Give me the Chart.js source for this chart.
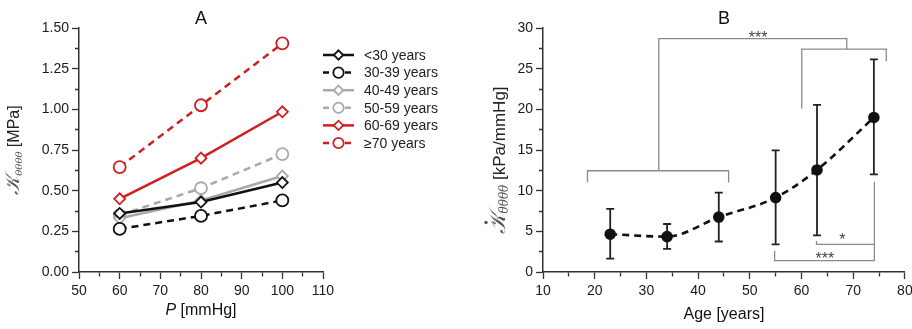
<!DOCTYPE html>
<html><head><meta charset="utf-8">
<script src="https://cdn.jsdelivr.net/npm/chart.js@4"></script>
<style>
html,body{margin:0;padding:0;background:#fff;overflow:hidden;width:912px;height:329px}
#wa{position:absolute;left:0;top:0;width:470px;height:329px}
#wb{position:absolute;left:470px;top:0;width:442px;height:329px}
</style></head><body>
<div id="wa"><canvas id="ca"></canvas></div>
<div id="wb"><canvas id="cb"></canvas></div>
<script>
// ---------- Panel A data ----------
const pressures = [60, 80, 100];
const groupLabels = ['<30 years', '30-39 years', '40-49 years', '50-59 years', '60-69 years', '\u226570 years'];
const kUnder30 = [0.36, 0.43, 0.55];
const k30to39 = [0.265, 0.345, 0.44];
const k40to49 = [0.33, 0.44, 0.59];
const k50to59 = [0.35, 0.515, 0.725];
const k60to69 = [0.45, 0.70, 0.985];
const k70plus = [0.645, 1.025, 1.405];
const xLabelsA = [50, 60, 70, 80, 90, 100, 110];
const yLabelsA = [0, 0.25, 0.5, 0.75, 1.0, 1.25, 1.5];

// ---------- Panel B data ----------
const ages = [23, 34, 44, 55, 63, 74];
const kDotMean = [4.65, 4.35, 6.75, 9.15, 12.55, 19.0];
const kDotLow = [1.65, 2.85, 3.75, 3.4, 4.5, 12.0];
const kDotHigh = [7.75, 5.9, 9.75, 14.95, 20.55, 26.15];
const xLabelsB = [10, 20, 30, 40, 50, 60, 70, 80];
const yLabelsB = [0, 5, 10, 15, 20, 25, 30];
// significance brackets (data coordinates: age, value)
const bracketPaths = [
  [[18.6, 11.0], [18.6, 12.45], [45.9, 12.45], [45.9, 11.0]],
  [[32.4, 12.45], [32.4, 28.7], [68.75, 28.7], [68.75, 27.4]],
  [[60.05, 20.1], [60.05, 27.4], [76.4, 27.4], [76.4, 25.9]],
  [[62.9, 3.8], [62.9, 3.4], [74.1, 3.4]],
  [[54.8, 2.6], [54.8, 1.4], [74.1, 1.4], [74.1, 11.1]]
];
const starMarks = [
  { x: 51.6, y: 29.2, text: '***' },
  { x: 67.9, y: 4.3, text: '*' },
  { x: 64.5, y: 2.0, text: '***' }
];

const FONT = '"Liberation Sans", Arial, sans-serif';
const RED = '#d01f1f', GREY = '#a9a9a9', BLACK = '#111111';

function drawYTitle(ctx, cx, cy, dot, unit, s) {
  ctx.save();
  ctx.translate(cx, cy);
  ctx.rotate(-Math.PI / 2);
  const fK = 'italic ' + s.k + 'px "DejaVu Serif", serif';
  const fSub = 'italic ' + s.sub + 'px "DejaVu Serif", serif';
  const fU = s.u + 'px ' + FONT;
  const K = '\uD835\uDCA6';
  ctx.font = fK; const wK = ctx.measureText(K).width;
  ctx.font = fSub; const wS = ctx.measureText('\u03B8\u03B8\u03B8\u03B8').width;
  ctx.font = fU; const wU = ctx.measureText(' ' + unit).width;
  const total = wK + wS + wU;
  let x = -total / 2;
  ctx.textBaseline = 'alphabetic';
  ctx.textAlign = 'left';
  ctx.fillStyle = '#555';
  ctx.font = fK; ctx.fillText(K, x, 6);
  if (dot) { ctx.beginPath(); ctx.arc(x + wK * 0.55, -13, 1.7, 0, Math.PI * 2); ctx.fill(); }
  x += wK;
  ctx.font = fSub; ctx.fillText('\u03B8\u03B8\u03B8\u03B8', x, 9);
  x += wS;
  ctx.fillStyle = '#222';
  ctx.font = fU; ctx.fillText(' ' + unit, x, 6);
  ctx.restore();
}

function axisOpts(min, max, step, width, isX, labels, fmt) {
  const isMajor = v => labels.some(t => Math.abs(t - v) < 1e-9);
  return {
    type: 'linear', min: min, max: max,
    afterFit: s => {
      if (isX) { s.height = 57; s.paddingLeft = 0; s.paddingRight = 0; }
      else { s.width = width; s.paddingTop = 0; s.paddingBottom = 0; }
    },
    ticks: {
      stepSize: step, padding: isX ? 4 : 3, color: '#1a1a1a', autoSkip: false,
      maxRotation: 0, minRotation: 0, font: { family: FONT, size: 14 },
      callback: v => isMajor(v) ? fmt(v) : ''
    },
    grid: {
      drawOnChartArea: false, drawTicks: true, tickLength: 7, color: '#333', tickWidth: 1.3,
      tickBorderDash: c => (c.tick && !isMajor(c.tick.value)) ? (isX ? [4, 100] : [0, 3, 4, 100]) : []
    },
    border: { display: true, color: '#333', width: 1.5 }
  };
}

// ---------- Chart A ----------
const aDatasets = [
  { label: groupLabels[0], data: kUnder30, borderColor: BLACK, pointStyle: 'rectRot', pointRadius: 5.5, borderDash: [] },
  { label: groupLabels[1], data: k30to39, borderColor: BLACK, pointStyle: 'circle', pointRadius: 6, borderDash: [7, 5] },
  { label: groupLabels[2], data: k40to49, borderColor: GREY, pointStyle: 'rectRot', pointRadius: 5.5, borderDash: [] },
  { label: groupLabels[3], data: k50to59, borderColor: GREY, pointStyle: 'circle', pointRadius: 6, borderDash: [7, 5] },
  { label: groupLabels[4], data: k60to69, borderColor: RED, pointStyle: 'rectRot', pointRadius: 5.5, borderDash: [] },
  { label: groupLabels[5], data: k70plus, borderColor: RED, pointStyle: 'circle', pointRadius: 6, borderDash: [7, 5] }
].map(d => Object.assign(d, {
  data: d.data.map((v, i) => ({ x: pressures[i], y: v })),
  borderWidth: 2.5, pointBorderColor: d.borderColor, pointBackgroundColor: '#fff',
  pointBorderWidth: 1.8, tension: 0, clip: false
}));

const panelA = {
  id: 'panelA',
  afterDraw(chart) {
    const ctx = chart.ctx, a = chart.chartArea;
    ctx.save();
    ctx.fillStyle = '#111'; ctx.font = '18px ' + FONT;
    ctx.textAlign = 'center'; ctx.textBaseline = 'middle';
    ctx.fillText('A', (a.left + a.right) / 2, 19);
    ctx.textAlign = 'left';
    ctx.font = 'italic 16px ' + FONT; const wP = ctx.measureText('P').width;
    ctx.font = '16px ' + FONT; const wR = ctx.measureText(' [mmHg]').width;
    let x0 = (a.left + a.right) / 2 - (wP + wR) / 2;
    ctx.font = 'italic 16px ' + FONT; ctx.fillText('P', x0, 311);
    ctx.font = '16px ' + FONT; ctx.fillText(' [mmHg]', x0 + wP, 311);
    chart.data.datasets.forEach((ds, i) => {
      const y = 55 + i * 17.6;
      ctx.strokeStyle = ds.borderColor; ctx.lineWidth = 2.5;
      ctx.setLineDash(ds.borderDash.length ? [6, 5] : []);
      ctx.beginPath(); ctx.moveTo(323, y); ctx.lineTo(354, y); ctx.stroke();
      ctx.setLineDash([]);
      ctx.fillStyle = '#fff'; ctx.strokeStyle = ds.borderColor; ctx.lineWidth = 1.8;
      Chart.helpers.drawPoint(ctx, { pointStyle: ds.pointStyle, radius: ds.pointRadius - 0.8, borderWidth: 1.8, rotation: 0 }, 338.5, y);
      ctx.fillStyle = '#222'; ctx.font = '14px ' + FONT;
      ctx.textAlign = 'left'; ctx.textBaseline = 'middle';
      ctx.fillText(ds.label, 364, y + 1);
    });
    ctx.restore();
    drawYTitle(ctx, 13, (a.top + a.bottom) / 2, false, '[MPa]', { k: 20, sub: 10, u: 16 });
  }
};

new Chart(document.getElementById('ca'), {
  type: 'line',
  data: { datasets: aDatasets },
  options: {
    responsive: true, maintainAspectRatio: false, animation: false,
    layout: { padding: { left: 0, right: 147, top: 28, bottom: 0 } },
    plugins: { legend: { display: false }, tooltip: { enabled: false } },
    scales: {
      x: axisOpts(50, 110, 5, 0, true, xLabelsA, v => String(v)),
      y: axisOpts(0, 1.5, 0.125, 79, false, yLabelsA, v => v.toFixed(2))
    }
  },
  plugins: [panelA]
});

// ---------- Chart B ----------
const panelB = {
  id: 'panelB',
  beforeDatasetsDraw(chart) {
    const ctx = chart.ctx, xs = chart.scales.x, ys = chart.scales.y;
    ctx.save();
    ctx.strokeStyle = '#8a8a8a'; ctx.lineWidth = 1.3;
    bracketPaths.forEach(p => {
      ctx.beginPath();
      p.forEach((pt, i) => {
        const px = xs.getPixelForValue(pt[0]), py = ys.getPixelForValue(pt[1]);
        if (i === 0) ctx.moveTo(px, py); else ctx.lineTo(px, py);
      });
      ctx.stroke();
    });
    ctx.strokeStyle = '#222'; ctx.lineWidth = 1.8;
    ages.forEach((age, i) => {
      const px = xs.getPixelForValue(age);
      const yl = ys.getPixelForValue(kDotLow[i]), yh = ys.getPixelForValue(kDotHigh[i]);
      ctx.beginPath();
      ctx.moveTo(px, yl); ctx.lineTo(px, yh);
      ctx.moveTo(px - 4, yl); ctx.lineTo(px + 4, yl);
      ctx.moveTo(px - 4, yh); ctx.lineTo(px + 4, yh);
      ctx.stroke();
    });
    ctx.restore();
  },
  afterDraw(chart) {
    const ctx = chart.ctx, a = chart.chartArea, xs = chart.scales.x, ys = chart.scales.y;
    ctx.save();
    ctx.fillStyle = '#444'; ctx.font = '16px ' + FONT;
    ctx.textAlign = 'center'; ctx.textBaseline = 'middle';
    starMarks.forEach(s => ctx.fillText(s.text, xs.getPixelForValue(s.x), ys.getPixelForValue(s.y) + 4));
    ctx.fillStyle = '#111'; ctx.font = '18px ' + FONT;
    ctx.fillText('B', (a.left + a.right) / 2, 19);
    ctx.font = '16px ' + FONT;
    ctx.fillText('Age [years]', (a.left + a.right) / 2, 315);
    ctx.restore();
    drawYTitle(ctx, 29, 160, true, '[kPa/mmHg]', { k: 22, sub: 12, u: 17 });
  }
};

new Chart(document.getElementById('cb'), {
  type: 'line',
  data: {
    datasets: [{
      label: 'mean',
      data: ages.map((a, i) => ({ x: a, y: kDotMean[i] })),
      borderColor: '#111', borderWidth: 2.6, borderDash: [7, 5],
      cubicInterpolationMode: 'monotone',
      pointStyle: 'circle', pointRadius: 4.5, pointBackgroundColor: '#111', pointBorderColor: '#111',
      clip: false
    }]
  },
  options: {
    responsive: true, maintainAspectRatio: false, animation: false,
    layout: { padding: { left: 0, right: 4, top: 28, bottom: 0 } },
    plugins: { legend: { display: false }, tooltip: { enabled: false } },
    scales: {
      x: axisOpts(10, 80, 5, 0, true, xLabelsB, v => String(v)),
      y: axisOpts(0, 30, 2.5, 73, false, yLabelsB, v => String(v))
    }
  },
  plugins: [panelB]
});
</script>
</body></html>
